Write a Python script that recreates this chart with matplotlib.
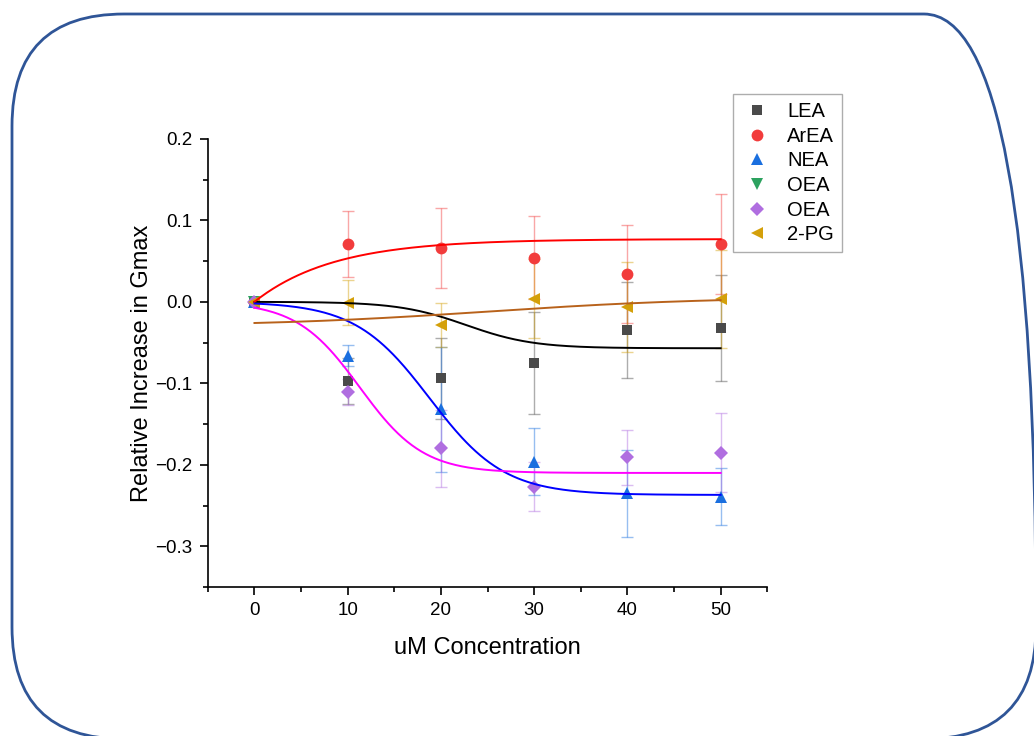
import numpy as np
import matplotlib
matplotlib.use("Agg")
import matplotlib.pyplot as plt
import matplotlib.patches as mpatches
from matplotlib.transforms import IdentityTransform
from matplotlib.ticker import MultipleLocator

plt.rcParams['font.family'] = ['Liberation Sans', 'DejaVu Sans']

# Data
conc = [0, 10, 20, 30, 40, 50]

lea = [0, -0.097, -0.094, -0.075, -0.035, -0.032]
lea_err = [0, 0.028, 0.05, 0.063, 0.059, 0.065]

area = [0, 0.071, 0.066, 0.054, 0.034, 0.071]
area_err = [0, 0.04, 0.049, 0.051, 0.06, 0.061]

nea = [0, -0.066, -0.132, -0.196, -0.235, -0.239]
nea_err = [0, 0.013, 0.077, 0.041, 0.053, 0.035]

oea_conc = [0]
oea = [0]
oea_err = [0]

oea2 = [0, -0.111, -0.18, -0.227, -0.191, -0.185]
oea2_err = [0, 0.016, 0.047, 0.03, 0.034, 0.049]

pg = [0, -0.001, -0.028, 0.004, -0.006, 0.003]
pg_err = [0, 0.028, 0.027, 0.048, 0.055, 0.06]

labels = ['LEA', 'ArEA', 'NEA', 'OEA', 'OEA', '2-PG']

# fitted curve parameters (Boltzmann: A1, A2, x0, dx)
lea_fit = (0.0, -0.057, 22.7, 3.6)
nea_fit = (0.0, -0.237, 18.8, 4.0)
oea2_fit = (0.0, -0.21, 11.3, 3.4)
pg_fit = (-0.030, 0.006, 25.0, 12.0)
# ArEA exponential rise: plateau, tau
area_fit = (0.077, 8.5)


def boltzmann(x, a1, a2, x0, dx):
    return a2 + (a1 - a2) / (1 + np.exp((x - x0) / dx))


def exp_rise(x, top, tau):
    return top * (1 - np.exp(-x / tau))


fig = plt.figure(figsize=(10.34, 7.36), dpi=100)
ax = fig.add_axes([0.201, 0.2024, 0.541, 0.609])

series = [
    (conc, lea, lea_err, 's', '#4a4a4a', 7.5),
    (conc, area, area_err, 'o', '#f23c3c', 8.5),
    (conc, nea, nea_err, '^', '#1a6fdf', 9),
    (oea_conc, oea, oea_err, 'v', '#2ca25f', 9),
    (conc, oea2, oea2_err, 'D', '#b06ee0', 7.5),
    (conc, pg, pg_err, '<', '#d4a00a', 9),
]

handles = []
for (x, y, e, m, c, ms), lab in zip(series, labels):
    ax.errorbar(x, y, yerr=e, fmt='none', ecolor=c, alpha=0.45,
                elinewidth=1, capsize=4, capthick=1, zorder=2)
    h, = ax.plot(x, y, linestyle='none', marker=m, color=c,
                 markersize=ms, markeredgewidth=0, label=lab, zorder=3)
    handles.append(h)

xs = np.linspace(0, 50, 300)
ax.plot(xs, boltzmann(xs, *lea_fit), color='black', lw=1.4, zorder=4)
ax.plot(xs, exp_rise(xs, *area_fit), color='#ff0000', lw=1.4, zorder=4)
ax.plot(xs, boltzmann(xs, *nea_fit), color='#0000ff', lw=1.4, zorder=4)
ax.plot(xs, boltzmann(xs, *oea2_fit), color='#ff00ff', lw=1.4, zorder=4)
ax.plot(xs, boltzmann(xs, *pg_fit), color='#b8621b', lw=1.4, zorder=4)

ax.set_xlim(-5, 55)
ax.set_ylim(-0.35, 0.2)
ax.xaxis.set_major_locator(MultipleLocator(10))
ax.xaxis.set_minor_locator(MultipleLocator(5))
ax.yaxis.set_minor_locator(MultipleLocator(0.05))
ax.set_yticks([-0.3, -0.2, -0.1, 0.0, 0.1, 0.2])

for side in ['top', 'right']:
    ax.spines[side].set_visible(False)
for side in ['left', 'bottom']:
    ax.spines[side].set_linewidth(1.2)

ax.tick_params(which='major', direction='out', length=6, width=1.2,
               labelsize=13.5, pad=5)
ax.tick_params(which='minor', direction='out', length=3.5, width=1.2)

ax.set_xlabel('uM Concentration', fontsize=17, labelpad=13)
ax.set_ylabel('Relative Increase in Gmax', fontsize=17, labelpad=2)

leg = fig.legend(handles=handles, loc='upper left',
                 bbox_to_anchor=(733 / 1034, 1 - 94 / 736),
                 borderaxespad=0, fontsize=14.5, frameon=True,
                 fancybox=False, edgecolor='#999999', labelspacing=0.28,
                 handletextpad=0.7, borderpad=0.4, handlelength=1.6)
leg.get_frame().set_linewidth(1)

# rounded border around the whole figure
border = mpatches.FancyBboxPatch((12, 736 - 739), 1024, 725,
                                 boxstyle="round,pad=0,rounding_size=112",
                                 transform=IdentityTransform(),
                                 facecolor='none', edgecolor='#2f5597',
                                 linewidth=2, clip_on=False)
fig.add_artist(border)

fig.savefig('out.png', dpi=100)
